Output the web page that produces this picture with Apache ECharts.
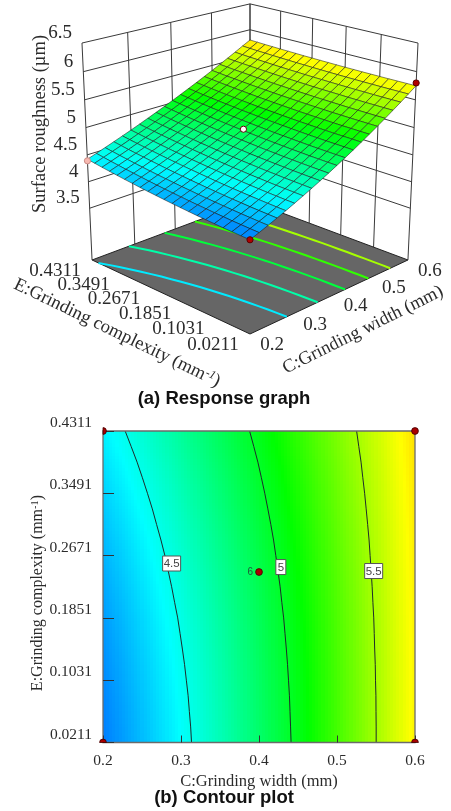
<!DOCTYPE html>
<html><head><meta charset="utf-8">
<script src="https://cdn.jsdelivr.net/npm/echarts@6/dist/echarts.min.js"></script>
<style>html,body{margin:0;padding:0;background:#fff}#c{width:451px;height:811px}</style>
</head><body><div id="c"></div>
<script>
// ---------- data ----------
const widthGrid=[0.20,0.22,0.24,0.26,0.28,0.30,0.32,0.34,0.36,0.38,0.40,0.42,0.44,0.46,0.48,0.50,0.52,0.54,0.56,0.58,0.60];
const complexityGrid=[0.0211,0.0416,0.0621,0.0826,0.1031,0.1236,0.1441,0.1646,0.1851,0.2056,0.2261,0.2466,0.2671,0.2876,0.3081,0.3286,0.3491,0.3696,0.3901,0.4106,0.4311];
// surface roughness: one row per complexity value, one column per width value
const roughness=[
[4.130,4.190,4.252,4.316,4.383,4.452,4.523,4.596,4.671,4.749,4.829,4.911,4.995,5.082,5.171,5.262,5.355,5.450,5.548,5.648,5.750],
[4.136,4.196,4.258,4.322,4.388,4.456,4.527,4.600,4.675,4.752,4.832,4.914,4.998,5.084,5.172,5.263,5.355,5.450,5.548,5.647,5.749],
[4.145,4.203,4.265,4.328,4.394,4.462,4.533,4.605,4.680,4.757,4.836,4.917,5.001,5.087,5.175,5.265,5.357,5.452,5.548,5.647,5.749],
[4.151,4.210,4.272,4.335,4.401,4.468,4.538,4.610,4.685,4.761,4.840,4.921,5.004,5.089,5.177,5.267,5.359,5.452,5.549,5.647,5.748],
[4.161,4.220,4.281,4.344,4.409,4.476,4.546,4.618,4.692,4.768,4.846,4.926,5.009,5.094,5.181,5.270,5.361,5.455,5.551,5.648,5.748],
[4.171,4.229,4.290,4.352,4.417,4.484,4.554,4.625,4.699,4.774,4.852,4.932,5.014,5.098,5.185,5.273,5.364,5.457,5.552,5.649,5.749],
[4.181,4.240,4.300,4.362,4.427,4.494,4.562,4.633,4.706,4.782,4.859,4.939,5.020,5.104,5.190,5.278,5.368,5.461,5.555,5.651,5.749],
[4.193,4.251,4.311,4.373,4.437,4.504,4.572,4.643,4.715,4.790,4.867,4.946,5.027,5.110,5.195,5.283,5.372,5.464,5.557,5.653,5.751],
[4.205,4.263,4.322,4.384,4.448,4.514,4.582,4.652,4.724,4.799,4.875,4.953,5.034,5.116,5.201,5.288,5.376,5.467,5.560,5.655,5.752],
[4.219,4.276,4.336,4.397,4.461,4.527,4.594,4.664,4.736,4.809,4.885,4.963,5.043,5.124,5.208,5.294,5.382,5.472,5.565,5.658,5.754],
[4.233,4.290,4.349,4.410,4.474,4.539,4.606,4.675,4.747,4.820,4.895,4.972,5.051,5.133,5.216,5.301,5.388,5.477,5.568,5.662,5.757],
[4.248,4.305,4.364,4.425,4.488,4.553,4.619,4.688,4.759,4.831,4.906,4.983,5.061,5.142,5.224,5.308,5.395,5.483,5.573,5.665,5.759],
[4.263,4.320,4.379,4.440,4.502,4.567,4.633,4.702,4.772,4.844,4.918,4.994,5.072,5.151,5.233,5.316,5.402,5.489,5.579,5.670,5.763],
[4.279,4.336,4.395,4.455,4.518,4.582,4.648,4.715,4.785,4.857,4.930,5.005,5.082,5.161,5.242,5.325,5.409,5.495,5.584,5.674,5.765],
[4.298,4.354,4.412,4.473,4.535,4.598,4.664,4.731,4.800,4.871,4.944,5.018,5.095,5.173,5.253,5.334,5.418,5.503,5.590,5.679,5.770],
[4.316,4.372,4.430,4.490,4.552,4.615,4.680,4.747,4.816,4.886,4.958,5.032,5.107,5.185,5.264,5.344,5.427,5.511,5.597,5.685,5.774],
[4.335,4.391,4.449,4.509,4.570,4.633,4.698,4.764,4.832,4.902,4.973,5.046,5.121,5.197,5.275,5.355,5.436,5.519,5.604,5.690,5.778],
[4.355,4.411,4.469,4.528,4.589,4.652,4.716,4.782,4.849,4.918,4.989,5.061,5.135,5.210,5.288,5.366,5.447,5.528,5.612,5.697,5.783],
[4.375,4.431,4.489,4.548,4.609,4.671,4.735,4.800,4.867,4.935,5.005,5.076,5.149,5.224,5.300,5.377,5.456,5.537,5.619,5.703,5.788],
[4.398,4.454,4.511,4.570,4.630,4.692,4.755,4.820,4.886,4.954,5.023,5.094,5.166,5.239,5.314,5.391,5.469,5.547,5.628,5.711,5.794],
[4.420,4.476,4.533,4.592,4.652,4.713,4.776,4.840,4.906,4.973,5.041,5.111,5.182,5.254,5.328,5.403,5.480,5.558,5.638,5.720,5.800]
];
const widthTicks=[0.2,0.3,0.4,0.5,0.6];
const complexityTicks=[0.0211,0.1031,0.1851,0.2671,0.3491,0.4311];
const roughnessTicks=[3.5,4,4.5,5,5.5,6,6.5];
const contourLevels=[4.5,5,5.5];
const floorLevels=[4.4,4.67,4.95,5.22,5.5];
const contourLabels=[[0.288,0.2567,'4.5'],[0.428,0.252,'5'],[0.547,0.2468,'5.5']];
const designPoints2D=[[0.2,0.0211],[0.6,0.0211],[0.2,0.4311],[0.6,0.4311],[0.4,0.2455]];
const centerRuns=[[0.4,0.2455,'6']];
// width, complexity, roughness, fill colour
const designPoints3D=[[0.2,0.0211,4.13,'#b00000'],[0.6,0.0211,5.80,'#b00000'],[0.2,0.4311,4.39,'#f7b8b0'],[0.392,0.2343,4.97,'#ffffff']];
const roughnessFloor=2.5, roughnessTop=6.5;

// ---------- helpers ----------
const cMin=0.2,cMax=0.6,eMin=0.0211,eMax=0.4311;
function project(C,E,z){
  const u=(C-cMin)/(cMax-cMin), v=(E-eMin)/(eMax-eMin), w=(z-roughnessFloor)/(roughnessTop-roughnessFloor);
  const D=1+0.127*(u+v)-0.0675*w;
  return [250+178*(u-v)/D,(334-41*(u+v)-247.4*w)/D];
}
function lerp(a,b,t){return a+(b-a)*t;}
const stops=[[3.82,[0,0,255]],[4.45,[0,255,255]],[5.1,[0,255,0]],[5.72,[255,255,0]],[6.35,[255,0,0]]];
function palette(z){
  if(z<=stops[0][0])return 'rgb(0,0,255)';
  for(let k=0;k<stops.length-1;k++){
    if(z<=stops[k+1][0]){
      const t=(z-stops[k][0])/(stops[k+1][0]-stops[k][0]);
      const a=stops[k][1],b=stops[k+1][1];
      return 'rgb('+Math.round(lerp(a[0],b[0],t))+','+Math.round(lerp(a[1],b[1],t))+','+Math.round(lerp(a[2],b[2],t))+')';
    }
  }
  return 'rgb(255,0,0)';
}
function contourPath(level){
  const pts=[];let prevFound=false;
  for(let j=0;j<roughness.length;j++){
    const row=roughness[j];let found=false;
    for(let i=0;i<row.length-1;i++){
      if(row[i]<=level&&level<row[i+1]){
        const t=(level-row[i])/(row[i+1]-row[i]);
        pts.push([lerp(widthGrid[i],widthGrid[i+1],t),complexityGrid[j]]);
        found=true;break;
      }
    }
    if(j>0&&found!==prevFound&&level<Math.max(row[0],roughness[j-1][0])){
      const a=roughness[j-1][0],b=row[0],t=(level-a)/(b-a);
      if(t>=0&&t<=1)pts.push([cMin,lerp(complexityGrid[j-1],complexityGrid[j],t)]);
    }
    prevFound=found;
  }
  return pts;
}
const serif='"Liberation Serif","Times New Roman",serif';
const sans='"Liberation Sans",Arial,sans-serif';
const ink='#2b2b2b';
function text3D(x,y,str,size,align,rot){
  return {type:'text',x:x,y:y,rotation:rot||0,style:{text:str,fill:ink,font:size+'px '+serif,align:align||'center',verticalAlign:'middle'}};
}
const noAnim={silent:true,animation:false};

// ---------- 3D wall / floor ----------
const wallSegments=[];
roughnessTicks.forEach(z=>{
  wallSegments.push([cMin,eMax,z,cMax,eMax,z]);
  wallSegments.push([cMax,eMax,z,cMax,eMin,z]);
});
widthTicks.forEach(C=>wallSegments.push([C,eMax,roughnessFloor,C,eMax,roughnessTop]));
complexityTicks.forEach(E=>wallSegments.push([cMax,E,roughnessFloor,cMax,E,roughnessTop]));

const wallSeries=Object.assign({type:'custom',coordinateSystem:'none',z:2,data:wallSegments,
  renderItem:(p,api)=>{
    const s=wallSegments[p.dataIndex],a=project(s[0],s[1],s[2]),b=project(s[3],s[4],s[5]);
    return {type:'line',shape:{x1:a[0],y1:a[1],x2:b[0],y2:b[1]},style:{stroke:'#3a3a3a',lineWidth:1}};
  }},noAnim);
const floorSeries=Object.assign({type:'custom',coordinateSystem:'none',z:3,data:[[roughnessFloor]],
  renderItem:()=>({type:'polygon',shape:{points:[project(cMin,eMin,roughnessFloor),project(cMax,eMin,roughnessFloor),project(cMax,eMax,roughnessFloor),project(cMin,eMax,roughnessFloor)]},style:{fill:'#666666',stroke:'#222',lineWidth:1}})
},noAnim);
const floorLineSeries=Object.assign({type:'custom',coordinateSystem:'none',z:4,data:floorLevels.map(l=>[l]),
  renderItem:(p)=>{
    const l=floorLevels[p.dataIndex];
    return {type:'polyline',shape:{points:contourPath(l).map(q=>project(q[0],q[1],roughnessFloor))},style:{fill:null,stroke:palette(l),lineWidth:2}};
  }},noAnim);

// ---------- 3D surface ----------
const surfaceCells=[];
for(let j=0;j<roughness.length-1;j++)for(let i=0;i<widthGrid.length-1;i++)surfaceCells.push([i,j]);
surfaceCells.sort((a,b)=>(b[0]+b[1])-(a[0]+a[1]));
const surfaceSeries=Object.assign({type:'custom',coordinateSystem:'none',z:5,data:surfaceCells,
  renderItem:(p)=>{
    const c=surfaceCells[p.dataIndex],i=c[0],j=c[1];
    const zs=[roughness[j][i],roughness[j][i+1],roughness[j+1][i+1],roughness[j+1][i]];
    const m=(zs[0]+zs[1]+zs[2]+zs[3])/4;
    return {type:'polygon',shape:{points:[
      project(widthGrid[i],complexityGrid[j],zs[0]),
      project(widthGrid[i+1],complexityGrid[j],zs[1]),
      project(widthGrid[i+1],complexityGrid[j+1],zs[2]),
      project(widthGrid[i],complexityGrid[j+1],zs[3])]},
      style:{fill:palette(m),stroke:'#1c1c1c',lineWidth:0.55}};
  }},noAnim);
const points3DSeries=Object.assign({type:'custom',coordinateSystem:'none',z:7,data:designPoints3D.map(d=>d.slice(0,3)),
  renderItem:(p)=>{
    const d=designPoints3D[p.dataIndex],q=project(d[0],d[1],d[2]);
    return {type:'circle',shape:{cx:q[0],cy:q[1],r:3.1},style:{fill:d[3],stroke:d[3]==='#f7b8b0'?'#c98a84':'#5a0000',lineWidth:1}};
  }},noAnim);

// ---------- 3D tick labels ----------
const labels3D=[];
roughnessTicks.forEach(z=>labels3D.push({k:'z',v:z}));
widthTicks.forEach(C=>labels3D.push({k:'c',v:C}));
complexityTicks.forEach(E=>labels3D.push({k:'e',v:E}));
const labelSeries=Object.assign({type:'custom',coordinateSystem:'none',z:8,data:labels3D.map(l=>[l.v]),
  renderItem:(p)=>{
    const l=labels3D[p.dataIndex];
    if(l.k==='z'){const q=project(cMin,eMax,l.v);return text3D(q[0]-10,q[1]-10,String(l.v),19,'right');}
    if(l.k==='c'){const q=project(l.v,eMin,roughnessFloor);return text3D(q[0]+22,q[1]+11,l.v.toFixed(1),19);}
    const q=project(cMin,l.v,roughnessFloor);return text3D(q[0]-37,q[1]+11.5,l.v.toFixed(4),19);
  }},noAnim);

// ---------- contour plot ----------
const heatCells=[];
for(let j=0;j<roughness.length-1;j++)for(let i=0;i<widthGrid.length-1;i++)heatCells.push([i,j]);
const SUB=5;
const heatSeries=Object.assign({type:'custom',coordinateSystem:'cartesian2d',z:2,data:heatCells,clip:true,
  renderItem:(p,api)=>{
    const c=heatCells[p.dataIndex],i=c[0],j=c[1],children=[];
    const z00=roughness[j][i],z10=roughness[j][i+1],z01=roughness[j+1][i],z11=roughness[j+1][i+1];
    for(let a=0;a<SUB;a++)for(let b=0;b<SUB;b++){
      const c0=lerp(widthGrid[i],widthGrid[i+1],a/SUB),c1=lerp(widthGrid[i],widthGrid[i+1],(a+1)/SUB);
      const e0=lerp(complexityGrid[j],complexityGrid[j+1],b/SUB),e1=lerp(complexityGrid[j],complexityGrid[j+1],(b+1)/SUB);
      const s=(a+.5)/SUB,t=(b+.5)/SUB;
      const z=lerp(lerp(z00,z10,s),lerp(z01,z11,s),t);
      const p0=api.coord([c0,e1]),p1=api.coord([c1,e0]);
      const x0=Math.round(p0[0]),x1=Math.round(p1[0]),y0=Math.round(p0[1]),y1=Math.round(p1[1]);
      children.push({type:'rect',shape:{x:x0,y:y0,width:x1-x0,height:y1-y0},style:{fill:palette(z)}});
    }
    return {type:'group',children};
  }},noAnim);
const contourSeries=contourLevels.map(l=>Object.assign({type:'line',xAxisIndex:0,yAxisIndex:0,z:3,data:contourPath(l),symbol:'none',smooth:false,clip:true,lineStyle:{color:'#1d2b2b',width:1}},noAnim));
const frameSeries=Object.assign({type:'custom',coordinateSystem:'cartesian2d',z:4,clip:false,data:[[cMin,eMax,cMax,eMin]],
  renderItem:(p,api)=>{
    const a=api.coord([cMin,eMax]),b=api.coord([cMax,eMin]);
    return {type:'rect',shape:{x:a[0],y:a[1],width:b[0]-a[0],height:b[1]-a[1]},style:{fill:null,stroke:'#6b6b6b',lineWidth:1.3}};
  }},noAnim);
const labelBoxSeries=Object.assign({type:'custom',coordinateSystem:'cartesian2d',z:6,clip:false,data:contourLabels.map(l=>[l[0],l[1]]),
  renderItem:(p,api)=>{
    const l=contourLabels[p.dataIndex],q=api.coord([l[0],l[1]]),w=l[2].length>1?18:10,h=15;
    return {type:'group',children:[
      {type:'rect',shape:{x:q[0]-w/2,y:q[1]-h/2,width:w,height:h},style:{fill:'#fff',stroke:'#555',lineWidth:1}},
      {type:'text',x:q[0],y:q[1]+.5,style:{text:l[2],fill:'#444',font:'11.5px '+sans,align:'center',verticalAlign:'middle'}}
    ]};
  }},noAnim);
const points2DSeries=Object.assign({type:'custom',coordinateSystem:'cartesian2d',z:7,clip:false,data:designPoints2D,
  renderItem:(p,api)=>{
    const d=designPoints2D[p.dataIndex],q=api.coord(d);
    let start=0,end=Math.PI*2;
    if(d[1]===eMin){start=Math.PI;end=Math.PI*2;}
    else if(d[0]===cMin){start=-Math.PI/2;end=Math.PI/2;}
    return {type:'sector',shape:{cx:q[0],cy:q[1],r0:0,r:3.4,startAngle:start,endAngle:end},style:{fill:'#a80000',stroke:'#400000',lineWidth:.8}};
  }},noAnim);
const runsSeries=Object.assign({type:'custom',coordinateSystem:'cartesian2d',z:7,clip:false,data:centerRuns.map(r=>[r[0],r[1]]),
  renderItem:(p,api)=>{
    const r=centerRuns[p.dataIndex],q=api.coord([r[0],r[1]]);
    return {type:'text',x:q[0]-6,y:q[1],style:{text:r[2],fill:'#1f5a3a',font:'10px '+sans,align:'right',verticalAlign:'middle'}};
  }},noAnim);

const chart=echarts.init(document.getElementById('c'),null,{renderer:'canvas'});
chart.setOption({
  animation:false,backgroundColor:'#fff',
  title:[
    {text:'(a) Response graph',left:224,top:389,textAlign:'center',padding:0,textStyle:{fontFamily:sans,fontWeight:'bold',fontSize:18.5,color:'#111'}},
    {text:'(b) Contour plot',left:224,top:788,textAlign:'center',padding:0,textStyle:{fontFamily:sans,fontWeight:'bold',fontSize:18.5,color:'#111'}}
  ],
  grid:{left:103,top:431,width:312,height:311.5,containLabel:false},
  xAxis:{type:'value',min:cMin,max:cMax,z:5,
    name:'C:Grinding width (mm)',nameLocation:'middle',nameGap:31,
    nameTextStyle:{fontFamily:serif,fontSize:16.5,color:ink},
    axisLine:{show:false},splitLine:{show:false},
    axisTick:{show:true,inside:true,length:7,customValues:widthTicks,lineStyle:{color:'#333',width:1}},
    axisLabel:{show:true,customValues:widthTicks,margin:10,formatter:v=>v.toFixed(1),fontFamily:serif,fontSize:15.5,color:ink}},
  yAxis:{type:'value',min:eMin,max:eMax,z:5,
    axisLine:{show:false},splitLine:{show:false},
    axisTick:{show:true,inside:true,length:11,customValues:complexityTicks,lineStyle:{color:'#333',width:1}},
    axisLabel:{show:true,customValues:complexityTicks,margin:11,verticalAlign:'bottom',formatter:v=>v.toFixed(4),fontFamily:serif,fontSize:15.5,color:ink}},
  graphic:[
    {type:'text',x:40,y:124,rotation:Math.PI/2,silent:true,style:{text:'Surface roughness (µm)',fill:ink,font:'18.5px '+serif,align:'center',verticalAlign:'middle'}},
    {type:'text',x:363,y:330,rotation:Math.atan(0.5),silent:true,style:{text:'C:Grinding width (mm)',fill:ink,font:'18.5px '+serif,align:'center',verticalAlign:'middle'}},
    {type:'text',x:117,y:333,rotation:-Math.atan(0.485),silent:true,style:{
      text:'{a|E:Grinding complexity (mm}{b|-1}{a|)}',align:'center',verticalAlign:'middle',
      rich:{a:{fontFamily:serif,fontSize:18.5,fill:ink},b:{fontFamily:serif,fontSize:12,fontStyle:'italic',fill:ink,verticalAlign:'top'}}}},
    {type:'text',x:38,y:593,rotation:Math.PI/2,silent:true,style:{
      text:'{a|E:Grinding complexity (mm}{b|-1}{a|)}',align:'center',verticalAlign:'middle',
      rich:{a:{fontFamily:serif,fontSize:16,fill:ink},b:{fontFamily:serif,fontSize:10.5,fill:ink,verticalAlign:'top'}}}}
  ],
  series:[wallSeries,floorSeries,floorLineSeries,surfaceSeries,points3DSeries,labelSeries,heatSeries].concat(contourSeries,[frameSeries,labelBoxSeries,points2DSeries,runsSeries])
});
</script></body></html>
